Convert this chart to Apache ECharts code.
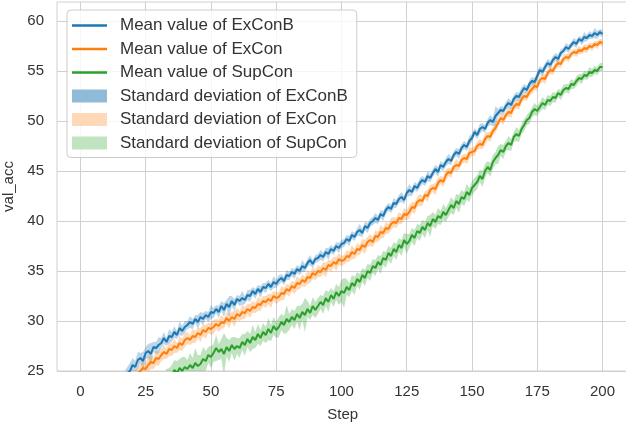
<!DOCTYPE html>
<html>
<head>
<meta charset="utf-8">
<script src="https://cdn.jsdelivr.net/npm/echarts@6/dist/echarts.min.js"></script>
<style>html,body{margin:0;padding:0;background:#fff;}#c{width:626px;height:425px;}</style>
</head>
<body>
<div id="c"></div>
<script>
// Steps run 1..200 (one value per step)
const xTicks = [0, 25, 50, 75, 100, 125, 150, 175, 200];
const yTicks = [25, 30, 35, 40, 45, 50, 55, 60];
const seriesNames = ['ExConB', 'ExCon', 'SupCon'];

const meanExConB = [
17.0,17.8,18.1,18.9,19.2,19.8,20.5,20.7,21.4,21.6,
22.0,22.6,22.9,23.4,23.5,24.1,24.3,24.8,25.0,25.6,
25.4,26.1,26.3,26.0,26.8,27.0,26.7,27.4,27.3,27.6,
27.8,28.3,27.9,28.5,28.4,28.9,28.6,29.3,29.0,29.4,
29.6,29.9,29.7,30.2,29.9,30.4,30.2,30.6,30.4,30.9,
30.8,31.2,30.9,31.5,31.1,31.7,31.4,32.0,31.6,32.2,
32.0,32.3,32.1,32.6,32.5,33.0,32.7,33.2,32.9,33.4,
33.3,33.7,33.4,33.9,33.7,34.1,34.3,34.0,34.6,34.5,
34.9,34.7,35.2,35.0,35.5,35.3,35.8,36.1,35.7,36.2,
36.3,36.6,36.4,36.9,36.7,37.2,37.0,37.5,37.3,37.7,
37.8,38.2,38.0,38.6,38.4,38.9,39.1,38.8,39.5,39.3,
39.8,40.0,40.3,40.1,40.7,40.5,41.1,41.4,41.2,41.8,
41.7,42.2,42.4,42.1,42.8,43.1,42.9,43.5,43.3,43.8,
44.1,43.9,44.5,44.3,44.8,45.2,44.9,45.6,45.4,45.9,
46.2,46.0,46.6,46.9,46.7,47.3,47.6,47.4,48.0,48.3,
48.9,48.6,49.2,49.4,49.2,49.8,50.1,49.9,50.5,50.8,
51.1,51.0,51.5,51.8,51.6,52.2,52.5,52.4,52.9,53.3,
53.1,53.7,54.0,53.9,54.5,55.1,54.9,55.4,55.8,55.6,
56.1,56.4,56.2,56.8,57.0,57.4,57.2,57.6,57.9,57.7,
58.2,58.0,58.4,58.3,58.6,58.5,58.8,58.6,58.9,58.7];

const meanExCon = [
15.5,16.2,16.6,17.3,17.5,18.2,18.6,19.1,19.4,20.0,
20.3,20.9,21.2,21.7,22.0,22.6,22.8,23.4,23.6,24.1,
24.3,24.8,25.0,25.3,25.2,25.6,25.9,25.8,26.3,26.2,
26.6,26.9,26.7,27.2,27.1,27.5,27.3,27.8,27.6,28.1,
28.3,28.1,28.5,28.4,28.8,28.6,29.1,28.9,29.3,29.2,
29.4,29.7,29.5,29.9,29.8,30.3,30.0,30.4,30.2,30.7,
30.5,30.9,30.8,31.2,31.0,31.4,31.3,31.7,31.6,32.0,
31.9,32.2,32.0,32.5,32.3,32.4,32.8,32.7,33.2,33.0,
33.5,33.3,33.8,33.7,34.1,33.9,34.4,34.3,34.8,34.6,
35.0,34.9,35.3,35.1,35.6,35.5,35.9,35.7,36.2,36.0,
36.1,36.5,36.4,36.9,36.7,37.2,37.1,37.6,37.4,37.9,
38.1,37.9,38.5,38.4,38.9,38.8,39.3,39.2,39.7,39.9,
39.8,40.3,40.2,40.7,40.6,40.9,41.4,41.3,41.9,42.1,
42.0,42.6,42.5,43.1,43.3,43.2,43.8,44.1,43.9,44.6,
44.9,44.8,45.4,45.6,45.5,46.1,46.3,46.2,46.8,46.9,
47.0,47.5,47.7,47.6,48.2,48.5,48.4,49.0,49.3,49.8,
50.3,50.1,50.6,50.9,50.8,51.4,51.7,51.6,52.2,52.5,
52.4,52.9,53.2,53.5,53.4,54.1,54.3,54.2,54.8,55.1,
55.0,55.5,55.8,55.7,56.2,56.4,56.3,56.7,56.9,56.8,
57.1,57.0,57.3,57.2,57.5,57.4,57.7,57.6,57.9,57.8];

const meanSupCon = [
13.0,13.5,13.9,14.2,14.6,15.0,15.3,15.7,16.0,16.4,
16.7,17.1,17.3,17.8,18.0,18.4,18.7,19.1,19.3,19.7,
20.0,20.4,20.6,21.0,21.3,21.6,21.9,22.3,22.5,22.9,
23.2,23.6,23.9,24.4,24.5,25.1,24.8,25.3,25.0,25.4,
25.2,25.6,25.3,25.8,25.5,25.7,26.2,26.0,26.6,26.4,
26.8,27.3,26.9,27.2,26.7,27.4,27.0,27.6,27.2,27.5,
27.3,27.9,27.6,28.2,27.8,28.4,28.1,28.7,28.3,28.9,
28.6,29.2,28.8,29.5,29.1,29.4,29.9,29.6,30.2,29.9,
30.4,30.1,30.7,30.3,30.9,30.6,31.2,30.8,31.5,31.1,
31.5,31.9,31.6,32.3,31.9,32.6,32.2,32.9,32.5,33.0,
32.8,33.4,33.1,33.8,33.5,34.2,33.9,34.6,34.3,35.0,
34.8,35.5,35.3,35.9,35.6,36.3,36.1,36.8,36.5,37.2,
36.9,37.6,37.3,38.1,37.7,38.0,38.6,38.3,39.0,38.8,
39.4,39.1,39.8,39.5,40.2,39.9,40.5,40.3,40.9,40.6,
41.1,41.6,41.3,42.0,41.7,42.4,42.2,42.9,42.6,43.3,
43.6,43.9,44.5,44.2,45.0,45.4,45.1,45.9,46.3,46.6,
47.1,46.9,47.5,47.8,47.6,48.4,48.7,48.5,49.2,49.6,
50.1,50.3,50.9,51.2,51.0,51.4,51.8,51.6,52.1,52.0,
52.4,52.3,52.8,52.6,53.1,53.3,53.2,53.7,53.6,54.0,
54.3,54.2,54.6,54.5,54.9,54.8,55.1,55.0,55.4,55.4];

const stdExConB = [
0.7,0.6,0.8,0.6,0.7,0.6,0.7,0.8,0.6,0.7,
0.6,0.8,0.7,0.6,0.8,0.6,0.7,0.6,0.8,0.7,
0.6,0.8,0.5,0.9,0.6,0.7,1.1,0.5,0.6,0.8,
0.5,0.6,0.4,0.7,0.5,0.6,0.4,0.7,0.5,0.6,
0.4,0.6,0.5,0.4,0.7,0.5,0.6,0.4,0.5,0.7,
0.5,0.4,0.6,0.5,0.7,0.4,1.1,0.5,0.6,0.4,
0.5,0.7,0.4,0.5,0.6,0.4,0.5,0.4,0.6,0.4,
0.5,0.4,0.4,0.6,0.4,0.5,0.4,0.4,0.5,0.4,
0.4,0.5,0.4,0.4,0.6,0.4,0.4,0.5,0.4,0.4,
0.4,0.5,0.4,0.4,0.6,0.4,0.4,0.4,0.5,0.4,
0.4,0.4,0.5,0.4,0.4,0.4,0.6,0.4,0.4,0.5,
0.4,0.4,0.5,0.4,0.4,0.5,0.4,0.4,0.4,0.5,
0.4,0.4,0.5,0.4,0.4,0.6,0.4,0.4,0.4,0.5,
0.4,0.4,0.5,0.4,0.4,0.4,0.5,0.4,0.4,0.4,
0.5,0.4,0.4,0.4,0.5,0.4,0.4,0.4,0.5,0.4,
0.4,0.4,0.5,0.4,0.4,0.4,0.5,0.4,1.0,0.4,
0.4,0.4,0.4,0.5,0.4,0.4,0.4,0.4,0.5,0.4,
0.4,0.4,0.4,0.4,0.5,0.4,0.4,0.4,0.4,0.4,
0.4,0.4,0.4,0.4,0.3,0.4,0.4,0.3,0.4,0.4,
0.3,0.4,0.5,0.3,0.4,0.3,0.5,0.4,0.3,0.4];

const stdExCon = [
0.7,0.8,0.6,0.8,0.7,0.6,0.8,0.7,0.6,0.8,
0.7,0.6,0.8,0.6,0.7,0.6,0.8,0.6,0.7,0.7,
0.7,0.6,0.7,0.7,0.6,0.8,0.7,0.6,0.7,0.7,
0.6,0.7,0.5,0.7,0.6,0.7,0.5,0.7,0.6,0.7,
0.6,0.5,0.7,0.6,0.5,0.7,0.6,0.7,0.5,0.6,
0.7,0.5,0.6,0.7,0.5,0.6,0.7,0.5,0.8,0.6,
0.5,0.7,0.6,0.5,0.7,0.6,0.5,0.7,0.6,0.5,
0.6,0.5,0.7,0.5,0.6,0.5,0.7,0.6,0.5,0.6,
0.5,0.6,0.7,0.5,0.6,0.5,0.7,0.5,0.6,0.5,
0.6,0.5,0.6,0.7,0.5,0.6,0.5,0.7,0.6,0.5,
0.5,0.6,0.5,0.7,0.5,0.6,0.5,0.6,0.7,0.5,
0.6,0.5,0.6,0.5,0.7,0.5,0.6,0.5,0.6,0.5,
0.5,0.6,0.5,0.6,0.5,0.7,0.5,0.6,0.5,0.6,
0.5,0.4,0.6,0.5,0.4,0.6,0.5,0.4,0.5,0.6,
0.4,0.5,0.4,0.6,0.4,0.5,0.4,0.5,0.6,0.4,
0.5,0.4,0.5,0.4,0.6,0.4,0.5,0.4,0.5,0.4,
0.4,0.5,0.4,0.4,0.5,0.4,0.4,0.5,0.4,0.4,
0.4,0.4,0.5,0.4,0.4,0.4,0.4,0.5,0.4,0.4,
0.4,0.4,0.4,0.4,0.4,0.3,0.4,0.4,0.3,0.4,
0.4,0.3,0.4,0.4,0.3,0.4,0.3,0.4,0.3,0.4];

const stdSupCon = [
1.0,1.1,0.9,1.2,1.0,1.1,0.9,1.0,1.2,1.1,
1.0,0.9,1.1,1.0,1.2,0.9,1.1,1.0,0.9,1.1,
1.0,1.2,0.9,1.1,1.0,0.9,1.1,1.3,1.0,0.9,
1.1,1.0,1.3,0.9,1.1,1.0,1.2,0.9,1.4,1.0,
0.9,1.2,1.0,1.5,1.1,0.9,1.2,1.0,0.8,1.1,
0.9,1.3,0.8,1.0,2.1,0.9,1.1,0.8,1.2,0.8,
1.0,0.8,1.1,0.8,0.9,1.2,0.8,1.0,0.8,0.9,
0.8,1.1,0.8,0.9,0.8,1.0,0.8,0.9,1.4,0.8,
0.8,0.9,0.8,1.2,0.8,1.7,0.8,0.7,0.9,0.8,
0.8,0.7,0.9,0.8,1.0,0.7,0.8,0.8,0.9,1.1,
1.5,0.8,0.7,0.8,0.9,0.7,0.8,0.7,0.8,0.7,
0.8,0.7,0.8,0.7,0.9,0.7,0.8,0.7,0.8,0.7,
0.8,0.7,0.8,0.7,1.0,0.7,0.7,0.8,0.7,0.8,
0.7,0.8,0.7,1.1,0.7,0.7,0.8,0.7,0.8,0.7,
0.7,0.8,0.7,0.7,0.9,0.7,0.7,0.8,0.7,0.7,
0.7,0.7,0.6,0.8,0.7,0.6,0.7,0.7,0.6,0.9,
0.6,0.7,0.5,0.7,0.6,0.5,0.7,0.6,0.5,0.6,
0.5,0.6,0.5,0.6,0.5,0.5,0.6,0.5,0.5,0.5,
0.5,0.5,0.4,0.5,0.5,0.4,0.5,0.5,0.4,0.5,
0.4,0.5,0.4,0.4,0.5,0.4,0.4,0.4,0.4,0.4];

const means = [meanExConB, meanExCon, meanSupCon];
const stds = [stdExConB, stdExCon, stdSupCon];
const lineColors = ['#1f77b4', '#ff7f0e', '#2ca02c'];
const bandColors = ['rgba(31,119,180,0.3)', 'rgba(255,127,14,0.3)', 'rgba(44,160,44,0.3)'];
const legendPatch = ['#8fbbd9', '#ffd9b7', '#c0e3c0'];

const series = [];
// standard-deviation bands (mean ± std), drawn as one polygon per model
seriesNames.forEach((n, k) => {
  const m = means[k], s = stds[k];
  const rows = m.map((v, i) => [i + 1, v - s[i], v + s[i]]);
  series.push({
    name: 'Standard deviation of ' + n, type: 'custom', z: 1, silent: true,
    itemStyle: { color: legendPatch[k] },
    encode: { x: 0, y: [1, 2] },
    data: rows,
    renderItem: function (params, api) {
      if (params.dataIndex !== 0) return null;
      const top = rows.map(r => api.coord([r[0], r[2]]));
      const bot = rows.map(r => api.coord([r[0], r[1]])).reverse();
      const cs = params.coordSys;
      return {
        type: 'polygon',
        shape: { points: top.concat(bot) },
        style: { fill: bandColors[k], stroke: null },
        clipPath: { type: 'rect', shape: { x: cs.x, y: cs.y, width: cs.width, height: cs.height } }
      };
    }
  });
});
// mean lines
seriesNames.forEach((n, k) => {
  series.push({
    name: 'Mean value of ' + n, type: 'line', symbol: 'none', z: 3,
    color: lineColors[k],
    lineStyle: { color: lineColors[k], width: 2 },
    data: means[k].map((v, i) => [i + 1, v])
  });
});

const FONT = 'Arial, "Liberation Sans", sans-serif';
const labelFont = { fontFamily: FONT, fontSize: 15, color: '#333333' };
const lineIcon = 'path://M0,0h0.01v0.01h-0.01z M0,5.25h35v2.5h-35z M34.99,12.99h0.01v0.01h-0.01z';

const chart = echarts.init(document.getElementById('c'), null, { renderer: 'canvas' });
chart.setOption({
  animation: false,
  backgroundColor: '#ffffff',
  grid: { left: 57, top: 2, width: 571.5, height: 369, outerBoundsMode: 'none', containLabel: false, show: true, borderColor: '#d0d0d0', borderWidth: 1, backgroundColor: 'transparent' },
  legend: {
    left: 67, top: 10, orient: 'vertical',
    itemWidth: 35, itemHeight: 13, itemGap: 6.5,
    padding: [7, 9, 6, 5],
    backgroundColor: 'rgba(255,255,255,0.8)',
    borderColor: '#cccccc', borderWidth: 1, borderRadius: 4,
    selectedMode: false,
    textStyle: { fontFamily: FONT, fontSize: 17, lineHeight: 17, color: '#333333', padding: [0, 0, 0, 8] },
    data: [
      { name: 'Mean value of ExConB', icon: lineIcon },
      { name: 'Mean value of ExCon', icon: lineIcon },
      { name: 'Mean value of SupCon', icon: lineIcon },
      { name: 'Standard deviation of ExConB', icon: 'rect', itemStyle: { color: legendPatch[0] } },
      { name: 'Standard deviation of ExCon', icon: 'rect', itemStyle: { color: legendPatch[1] } },
      { name: 'Standard deviation of SupCon', icon: 'rect', itemStyle: { color: legendPatch[2] } }
    ]
  },
  xAxis: {
    type: 'value', min: -8.95, max: 209.95,
    name: 'Step', nameLocation: 'middle', nameGap: 36,
    nameTextStyle: labelFont,
    axisLine: { show: false }, axisTick: { show: false, customValues: xTicks },
    axisLabel: Object.assign({ customValues: xTicks, margin: 13 }, labelFont),
    splitLine: { show: true, lineStyle: { color: '#d0d0d0', width: 1 } }
  },
  yAxis: {
    type: 'value', min: 25, max: 61.9,
    name: 'val_acc', nameLocation: 'middle', nameGap: 38,
    nameTextStyle: labelFont,
    axisLine: { show: false }, axisTick: { show: false, customValues: yTicks },
    axisLabel: Object.assign({ customValues: yTicks, margin: 13 }, labelFont),
    splitLine: { show: true, lineStyle: { color: '#d0d0d0', width: 1 } }
  },
  series: series
});
</script>
</body>
</html>
